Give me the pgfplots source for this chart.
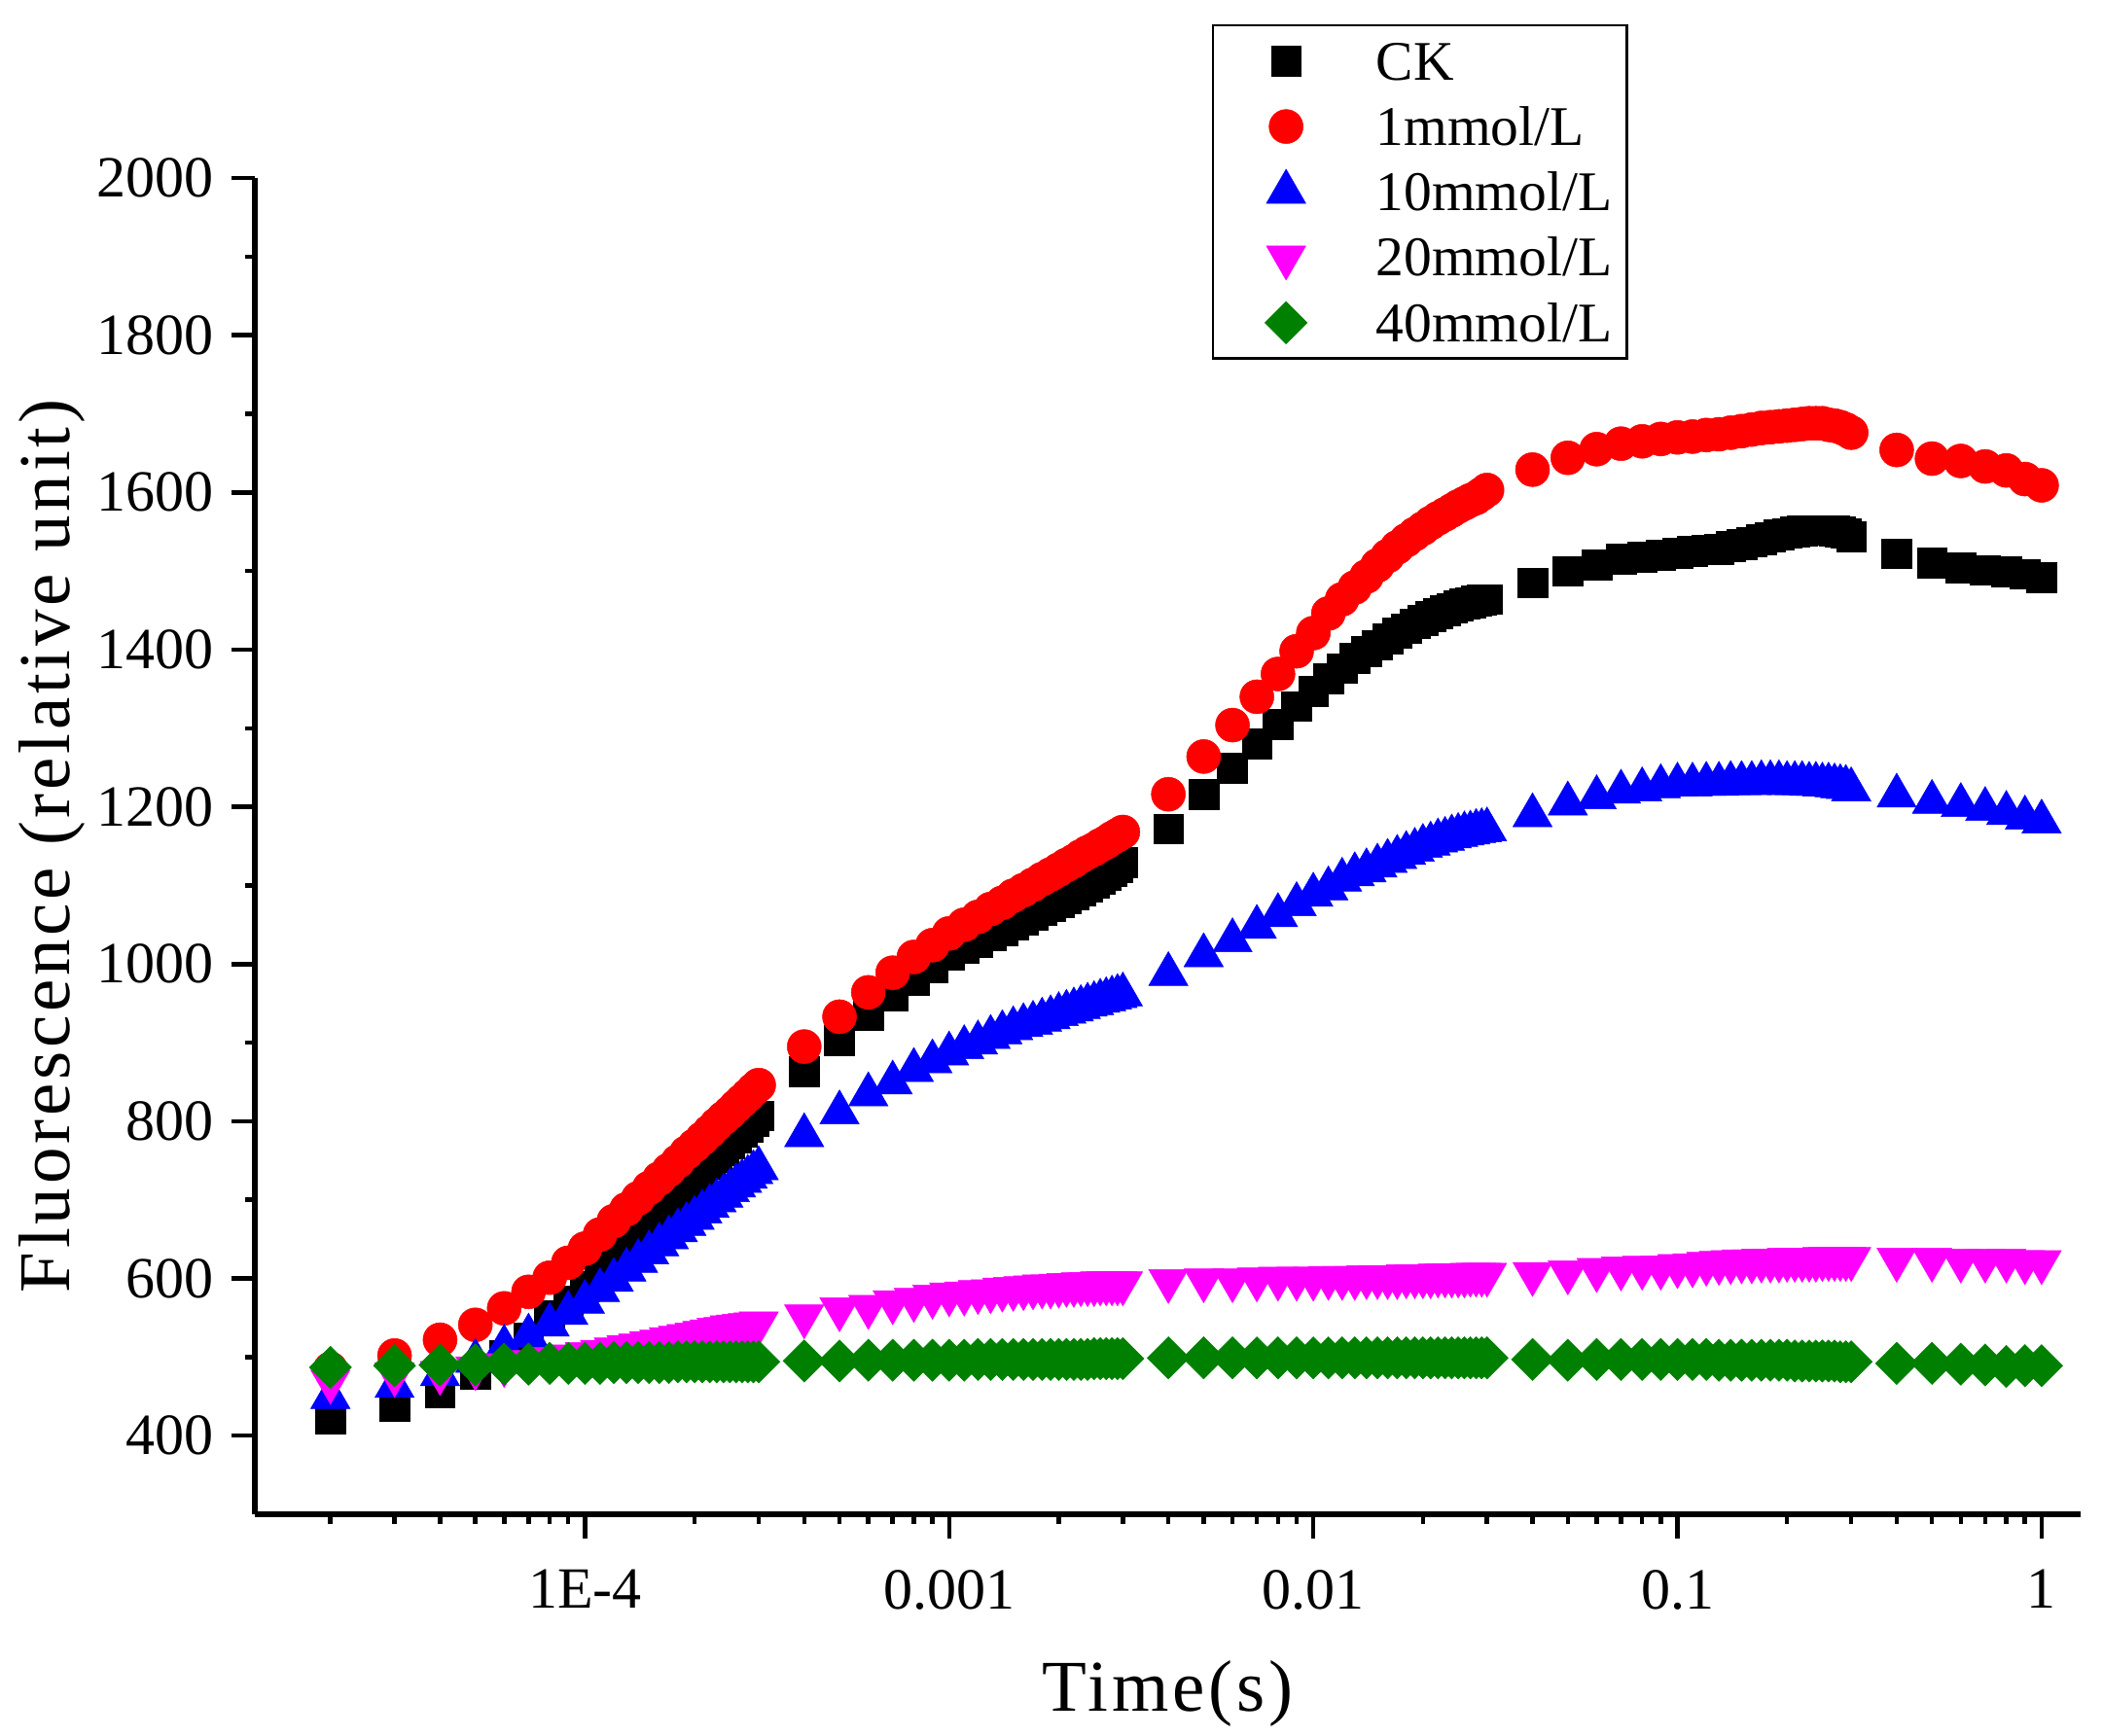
\documentclass[border=0pt]{standalone}
\usepackage{fontspec}
\setmainfont{Liberation Serif}
\newfontfamily\labelfont[LetterSpace=5]{Liberation Serif}
\usepackage{pgfplots}
\usepackage{pgfplotstable}
\pgfplotsset{compat=1.18}

\definecolor{ogreen}{RGB}{0,128,0}
\definecolor{omagenta}{RGB}{255,0,255}
\definecolor{ored}{RGB}{255,0,0}
\definecolor{oblue}{RGB}{0,0,255}

% t (s), CK, 1mmol/L, 10mmol/L, 20mmol/L, 40mmol/L
\pgfplotstableread{
t ck c1 c10 c20 c40
2e-5 421 485 449 469 487
3e-5 438 502 463 478 489
4e-5 455 522 478 480 490
5e-5 478 541 495 486 490
6e-5 502 562 513 490 491
7e-5 525 583 527 494 491
8e-5 553 601 541 498 492
9e-5 572 620 556 501 492
1e-4 590 638 570 504 492
1.1e-4 609 656 585 507 492
1.2e-4 626 673 598 510 493
1.3e-4 642 688 611 513 493
1.4e-4 656 702 622 515 493
1.5e-4 670 715 633 518 493
1.6e-4 683 727 643 520 493
1.7e-4 695 738 652 523 493
1.8e-4 706 749 661 525 494
1.9e-4 717 760 669 527 494
2e-4 727 769 677 529 494
2.1e-4 737 778 685 531 494
2.2e-4 746 787 692 533 494
2.3e-4 754 796 699 535 494
2.4e-4 763 804 705 536 494
2.5e-4 771 811 712 538 494
2.6e-4 779 819 718 539 494
2.7e-4 786 826 724 540 494
2.8e-4 793 833 729 541 494
2.9e-4 800 840 735 542 494
3e-4 807 846 740 543 494
4e-4 863 895 782 552 495
5e-4 903 933 811 561 495
6e-4 935 964 834 564 496
7e-4 960 989 849 570 496
8e-4 980 1009 865 573 496
9e-4 996 1024 876 577 496
1e-3 1011 1039 886 580 496
1.1e-3 1020 1050 894 581 496
1.2e-3 1028 1060 900 583 497
1.3e-3 1036 1070 907 584 497
1.4e-3 1043 1078 913 586 497
1.5e-3 1050 1087 918 587 497
1.6e-3 1056 1094 922 588 497
1.7e-3 1062 1101 925 589 497
1.8e-3 1068 1108 929 590 497
1.9e-3 1073 1114 932 590 497
2e-3 1078 1120 936 591 497
2.1e-3 1083 1126 939 592 497
2.2e-3 1088 1131 942 592 497
2.3e-3 1093 1137 945 593 497
2.4e-3 1098 1142 948 593 497
2.5e-3 1103 1146 950 593 498
2.6e-3 1108 1151 953 594 498
2.7e-3 1113 1155 955 594 498
2.8e-3 1118 1160 957 594 498
2.9e-3 1123 1164 959 594 498
3e-3 1129 1168 961 594 498
4e-3 1172 1216 987 597 499
5e-3 1216 1264 1011 598 499
6e-3 1249 1304 1030 598 499
7e-3 1280 1340 1047 599 499
8e-3 1305 1369 1062 600 499
9e-3 1328 1398 1076 600 499
1e-2 1347 1421 1088 600 499
1.1e-2 1363 1446 1096 601 499
1.2e-2 1376 1464 1107 601 499
1.3e-2 1389 1479 1114 601 499
1.4e-2 1398 1493 1119 602 499
1.5e-2 1406 1507 1125 602 499
1.6e-2 1414 1519 1131 602 499
1.7e-2 1421 1530 1136 602 499
1.8e-2 1427 1539 1141 603 499
1.9e-2 1433 1547 1145 603 499
2e-2 1437 1554 1150 603 499
2.1e-2 1442 1561 1153 603 499
2.2e-2 1446 1567 1157 604 499
2.3e-2 1450 1572 1159 604 499
2.4e-2 1453 1577 1162 604 499
2.5e-2 1456 1582 1164 604 499
2.6e-2 1458 1586 1166 604 499
2.7e-2 1460 1590 1167 605 499
2.8e-2 1462 1593 1169 605 499
2.9e-2 1463 1598 1170 605 499
3e-2 1464 1603 1171 605 499
4e-2 1485 1629 1189 606 497
5e-2 1500 1644 1204 608 496
6e-2 1508 1655 1212 611 497
7e-2 1515 1662 1219 613 497
8e-2 1518 1665 1222 614 497
9e-2 1520 1668 1226 614 497
0.10 1523 1670 1228 616 497
0.11 1525 1671 1228 617 497
0.12 1527 1673 1229 619 497
0.13 1528 1674 1229 620 496
0.14 1531 1676 1230 621 496
0.15 1534 1678 1230 622 496
0.16 1537 1680 1230 622 496
0.17 1540 1682 1231 623 496
0.18 1543 1683 1231 623 496
0.19 1546 1684 1231 623 496
0.20 1548 1685 1230 624 496
0.21 1550 1686 1230 624 495
0.22 1551 1687 1230 624 495
0.23 1552 1688 1229 624 495
0.24 1552 1688 1229 624 495
0.25 1552 1688 1228 625 495
0.26 1552 1686 1228 625 495
0.27 1551 1685 1227 625 495
0.28 1550 1683 1226 625 494
0.29 1548 1680 1225 625 494
0.30 1544 1676 1222 625 494
0.4 1522 1654 1214 624 492
0.5 1510 1643 1206 624 492
0.6 1504 1640 1202 623 491
0.7 1501 1633 1197 623 490
0.8 1499 1628 1192 623 488
0.9 1496 1617 1186 621 489
1.0 1492 1609 1181 621 489
}\ojip

\begin{document}
\begin{tikzpicture}
\begin{axis}[
    scale only axis,
    width=375.4pt, height=274.8pt,
    xmode=log,
    xmin=1.24e-5, xmax=1.28,
    ymin=300, ymax=2000,
    axis x line=bottom, axis y line=left,
    axis line style={-, line width=1.1pt},
    tick align=outside,
    major tick length=4.9pt, minor tick length=2pt,
    tick style={black, line width=0.9pt},
    xtick={1e-4,1e-3,1e-2,1e-1,1},
    xticklabels={1E-4,0.001,0.01,0.1,1},
    minor xtick={2e-5,3e-5,4e-5,5e-5,6e-5,7e-5,8e-5,9e-5,
                 2e-4,3e-4,4e-4,5e-4,6e-4,7e-4,8e-4,9e-4,
                 2e-3,3e-3,4e-3,5e-3,6e-3,7e-3,8e-3,9e-3,
                 2e-2,3e-2,4e-2,5e-2,6e-2,7e-2,8e-2,9e-2,
                 0.2,0.3,0.4,0.5,0.6,0.7,0.8,0.9},
    ytick={400,600,800,1000,1200,1400,1600,1800,2000},
    yticklabels={400,600,800,1000,1200,1400,1600,1800,2000},
    minor ytick={500,700,900,1100,1300,1500,1700,1900},
    tick label style={font=\fontsize{12}{14}\selectfont},
    xticklabel style={yshift=-3pt},
    label style={font=\labelfont\fontsize{15}{18}\selectfont},
    xlabel={Time(s)},
    ylabel={Fluorescence (relative unit)},
    xlabel style={at={([yshift=-40.4pt]axis description cs:0.5,0)}, anchor=base},
    ylabel style={at={([xshift=-38pt]axis description cs:0,0.5)}, anchor=base},
    legend style={at={(0.5242,1.115)}, anchor=north west, draw=black,
        line width=0.5pt, fill=white, inner xsep=2pt, inner ysep=0.6pt,
        row sep=0pt, column sep=4.5pt, font=\fontsize{11.5}{14}\selectfont,
        nodes={anchor=west, inner sep=1pt, text height=9.6pt, text depth=1.85pt}},
    legend image code/.code={\path[draw=none, fill=none] (0pt,0pt) -- (26pt,0pt);
        \draw[#1] plot coordinates {(13pt,0pt)};},
]
\addplot[only marks, color=black, mark=square*, mark size=3.07pt,
    mark options={line width=0.1pt}] table[x=t, y=ck] {\ojip};
\addlegendentry{CK}
\addplot[only marks, color=ored, mark=*, mark size=3.5pt,
    mark options={line width=0.1pt}] table[x=t, y=c1] {\ojip};
\addlegendentry{1mmol/L}
\addplot[only marks, color=oblue, mark=triangle*, mark size=4.67pt,
    mark options={line width=0.1pt}] table[x=t, y=c10] {\ojip};
\addlegendentry{10mmol/L}
\addplot[only marks, color=omagenta, mark=triangle*, mark size=4.67pt,
    mark options={line width=0.1pt, rotate=180}] table[x=t, y=c20] {\ojip};
\addlegendentry{20mmol/L}
\addplot[only marks, color=ogreen, mark=square*, mark size=3.07pt,
    mark options={line width=0.1pt, rotate=45}] table[x=t, y=c40] {\ojip};
\addlegendentry{40mmol/L}
\end{axis}
\pgfresetboundingbox
\path (-52.4pt,-45.4pt) rectangle (380pt,311.4pt);
\end{tikzpicture}
\end{document}
